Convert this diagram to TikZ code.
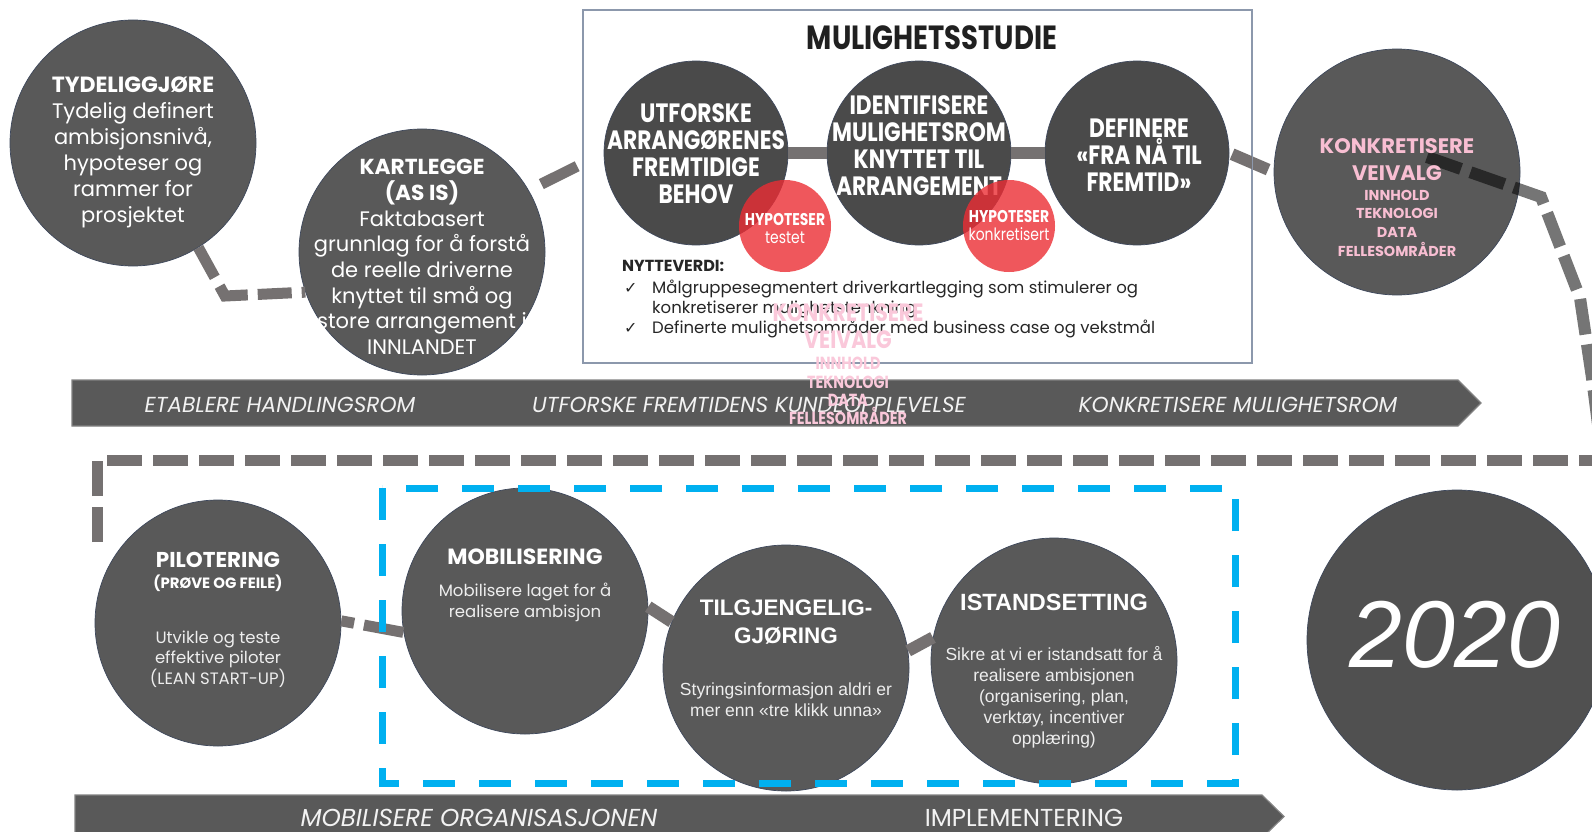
\documentclass[tikz,border=0pt]{standalone}
\usepackage{fontspec}
\setmainfont{Poppins}
\newfontfamily\condf{Poppins}[FakeStretch=0.82]
\newfontfamily\arialf{Liberation Sans}
\newfontfamily\dejavuf{DejaVu Sans}
\pgfdeclarelayer{back}
\pgfsetlayers{back,main}
\definecolor{cgray}{RGB}{89,89,89}
\definecolor{cdark}{RGB}{74,74,74}
\definecolor{c2020}{RGB}{80,80,80}
\definecolor{rimc}{RGB}{62,72,92}
\definecolor{lgray}{RGB}{117,113,113}
\definecolor{bandrim}{RGB}{130,130,130}
\definecolor{bandtext}{RGB}{242,242,242}
\definecolor{blueln}{RGB}{0,176,240}
\definecolor{pinkt}{RGB}{248,190,210}
\definecolor{ghostc}{RGB}{250,200,218}
\definecolor{redfill}{RGB}{236,45,52}
\definecolor{boxrim}{RGB}{140,152,172}
\definecolor{titlec}{RGB}{32,32,32}
\definecolor{ntc}{RGB}{38,38,38}
\definecolor{lighttxt}{RGB}{238,238,238}
\tikzset{
  circ/.style={circle, fill=cgray, draw=rimc, line width=0.7pt, minimum size=246pt, inner sep=0pt},
  circd/.style={circ, fill=cdark, minimum size=184pt},
  redcirc/.style={circle, fill=redfill, fill opacity=0.8, draw=none, minimum size=92pt, inner sep=0pt},
  wtxt/.style={text=white, align=center, inner sep=0pt},
  ltxt/.style={text=lighttxt, align=center, inner sep=0pt},
  boxhead/.style={wtxt, font=\condf\bfseries\fontsize{26.5}{27}\selectfont},
  dashconn/.style={draw=lgray, line width=11pt, dash pattern=on 34pt off 10pt},
  barconn/.style={draw=lgray, line width=12pt},
  bandshape/.style={fill=cgray, draw=bandrim, line width=1.2pt},
  bandtxt/.style={text=bandtext, inner sep=0pt, font=\itshape\fontsize{21.7}{24}\selectfont},
  bandtxtb/.style={text=bandtext, inner sep=0pt, font=\itshape\fontsize{24.5}{26}\selectfont},
  bluedash/.style={draw=blueln, line width=7pt, dash pattern=on 32pt off 24pt},
  framedash/.style={draw=lgray, line width=11pt, dash pattern=on 35pt off 11pt},
  konkline/.style={draw=black, draw opacity=0.54, line width=12pt, dash pattern=on 36pt off 10pt},
  ntxt/.style={inner sep=0pt, text=ntc, font=\fontsize{16.5}{20}\selectfont, anchor=base west},
  ckmark/.style={ntxt, font=\dejavuf\fontsize{16}{20}\selectfont},
  pinktxt/.style={wtxt, text=pinkt},
  ghosttxt/.style={wtxt, text=ghostc},
}
\begin{document}
\begin{tikzpicture}[x=1pt,y=-1pt]
\useasboundingbox (0,0) rectangle (1592,832);
\begin{pgfonlayer}{back}
\fill[white] (0,0) rectangle (1592,832);
\end{pgfonlayer}

% ---------- bands ----------
\draw[bandshape] (72,380) -- (1458,380) -- (1481,403) -- (1458,426) -- (72,426) -- cycle;
\node[bandtxt] (b1a) at (280,405) {ETABLERE HANDLINGSROM};
\node[bandtxt] (b1b) at (749,405) {UTFORSKE FREMTIDENS KUNDEOPPLEVELSE};
\node[bandtxt] (b1c) at (1238,405) {KONKRETISERE MULIGHETSROM};

\draw[bandshape] (75,795) -- (1262,795) -- (1284,816.5) -- (1262,838) -- (75,838) -- cycle;
\node[bandtxtb] (b2a) at (479,818) {MOBILISERE ORGANISASJONEN};
\node[bandtxtb, font=\fontsize{24.5}{26}\selectfont] (b2b) at (1024,818) {IMPLEMENTERING};

% ---------- top row ----------
\node[circ] (c1) at (133,143) {};
\node[wtxt, font=\fontsize{21}{26}\selectfont] (c1t) at (133,152)
  {{\bfseries\fontsize{22}{26}\selectfont TYDELIGGJØRE}\\Tydelig definert\\ambisjonsnivå,\\hypoteser og\\rammer for\\prosjektet};

\node[circ] (c2) at (422,252) {};
\node[wtxt, font=\fontsize{21}{25.7}\selectfont] (c2t) at (422,257)
  {{\bfseries\fontsize{21.7}{25.7}\selectfont KARTLEGGE}\\{\bfseries\fontsize{21.7}{25.7}\selectfont (AS IS)}\\Faktabasert\\grunnlag for å forstå\\de reelle driverne\\knyttet til små og\\store arrangement i\\INNLANDET};

\coordinate (k1) at (225,296);
\draw[dashconn] (c1.-58) -- (k1) -- (c2.199);

% ---------- mulighetsstudie box ----------
\node[draw=boxrim, fill=white, line width=1.2pt, minimum width=669pt, minimum height=353pt, inner sep=0pt] (box) at (917.5,186.5) {};
\node[inner sep=0pt, text=titlec, font=\condf\bfseries\fontsize{33.5}{36}\selectfont] (title) at (932,38) {MULIGHETSSTUDIE};

\node[circd] (u) at (696,153) {};
\node[circd] (id) at (919,153) {};
\node[circd] (def) at (1137,153) {};
\begin{pgfonlayer}{back}
\draw[dashconn, dash pattern=on 40pt off 14pt, dash phase=40pt] (c2.30) -- (u.180);
\end{pgfonlayer}
\node[boxhead] (ut) at (696,154) {UTFORSKE\\ARRANGØRENES\\FREMTIDIGE\\BEHOV};
\node[boxhead] (idt) at (919,146) {IDENTIFISERE\\MULIGHETSROM\\KNYTTET TIL\\ARRANGEMENT};
\node[boxhead] (deft) at (1139,155) {DEFINERE\\«FRA NÅ TIL\\FREMTID»};

\draw[barconn] (u.east) -- (id.west);
\draw[barconn] (id.east) -- (def.west);

\node[redcirc] (h1) at (785,226) {};
\node[redcirc] (h2) at (1009,226) {};
\node[wtxt, font=\condf\fontsize{17}{18}\selectfont] (h1t) at (785,229) {{\bfseries HYPOTESER}\\testet};
\node[wtxt, font=\condf\fontsize{17}{18}\selectfont] (h2t) at (1009,226) {{\bfseries HYPOTESER}\\konkretisert};

\node[ntxt, font=\bfseries\fontsize{16}{20}\selectfont] (ny) at (622,271) {NYTTEVERDI:};
\node[ckmark] (ck1) at (624,293) {✓};
\node[ntxt] (nb1) at (652,293) {Målgruppesegmentert driverkartlegging som stimulerer og};
\node[ntxt] (nb2) at (652,313) {konkretiserer mulighetstenkning};
\node[ckmark] (ck2) at (624,333) {✓};
\node[ntxt] (nb3) at (652,333) {Definerte mulighetsområder med business case og vekstmål};

% ---------- konkretisere veivalg ----------
\node[circ] (konk) at (1397,172) {};
\draw[barconn, shorten <=3pt, shorten >=6pt] (def.east) -- (konk.west);
\draw[draw=boxrim, line width=1.2pt] (box.north east) -- (box.south east);
\coordinate (ks) at (1427,157);
\coordinate (kp1) at (1541,197);
\coordinate (kp2) at (1580,298);
\coordinate (kp3) at (1592,378);
\coordinate (kp4) at (1600,440);
\draw[konkline] (ks) -- (kp1) -- (kp2) -- (kp3) -- (kp4);
\node[pinktxt, font=\bfseries\fontsize{21}{27}\selectfont] (konka) at (1397,160) {KONKRETISERE\\VEIVALG};
\node[pinktxt, font=\bfseries\fontsize{14.4}{18.7}\selectfont] (konkb) at (1397,223) {INNHOLD\\TEKNOLOGI\\DATA\\FELLESOMRÅDER};

% ghost text
\node[ghosttxt, font=\condf\bfseries\fontsize{25}{27}\selectfont] (gha) at (848,326) {KONKRETISERE\\VEIVALG};
\node[ghosttxt, font=\condf\bfseries\fontsize{17.5}{18.3}\selectfont] (ghb) at (848,391) {INNHOLD\\TEKNOLOGI\\DATA\\FELLESOMRÅDER};

% ---------- bottom frame ----------
\coordinate (fa) at (97,542);
\coordinate (fb) at (97,460);
\coordinate (fc) at (1600,460);
\draw[framedash] (fa) -- (fb) -- (fc);

% ---------- bottom row ----------
\node[circ] (P) at (218,623) {};
\node[circ] (M) at (525,611) {};
\node[circ] (T) at (786,668) {};
\node[circ] (I) at (1054,661) {};
\node[circ, fill=c2020, minimum size=300pt] (Y) at (1457,640) {};

\draw[dashconn, dash pattern=on 13pt off 10pt on 40pt off 10pt] (P.1) -- (M.190);
\draw[barconn] (M.2) -- (T.158);
\draw[barconn] (T.8) -- (I.169);

\node[wtxt, font=\bfseries\fontsize{21.5}{24}\selectfont] (Pa) at (218,560) {PILOTERING};
\node[wtxt, font=\bfseries\fontsize{14.9}{16}\selectfont] (Pa2) at (218,583) {(PRØVE OG FEILE)};
\node[ltxt, font=\fontsize{16.5}{20.5}\selectfont] (Pb) at (218,659) {Utvikle og teste\\effektive piloter\\(LEAN START-UP)};

\node[wtxt, font=\bfseries\fontsize{22}{24}\selectfont] (Ma) at (525,557) {MOBILISERING};
\node[ltxt, font=\fontsize{16.5}{21}\selectfont] (Mb) at (525,602.5) {Mobilisere laget for å\\realisere ambisjon};

\node[wtxt, font=\arialf\bfseries\fontsize{22.5}{28}\selectfont] (Ta) at (786,622) {TILGJENGELIG-\\GJØRING};
\node[ltxt, font=\arialf\fontsize{17.5}{21}\selectfont] (Tb) at (786,699.5) {Styringsinformasjon aldri er\\mer enn «tre klikk unna»};

\node[wtxt, font=\arialf\bfseries\fontsize{23.5}{28}\selectfont] (Ia) at (1054,602) {ISTANDSETTING};
\node[ltxt, font=\arialf\fontsize{17.5}{21}\selectfont] (Ib) at (1054,697) {Sikre at vi er istandsatt for å\\realisere ambisjonen\\(organisering, plan,\\verktøy, incentiver\\opplæring)};

\node[wtxt, font=\arialf\itshape\fontsize{95}{100}\selectfont] (Yt) at (1455,635) {2020};

\draw[bluedash] (382,488) rectangle (1235,783);
\end{tikzpicture}
\end{document}
